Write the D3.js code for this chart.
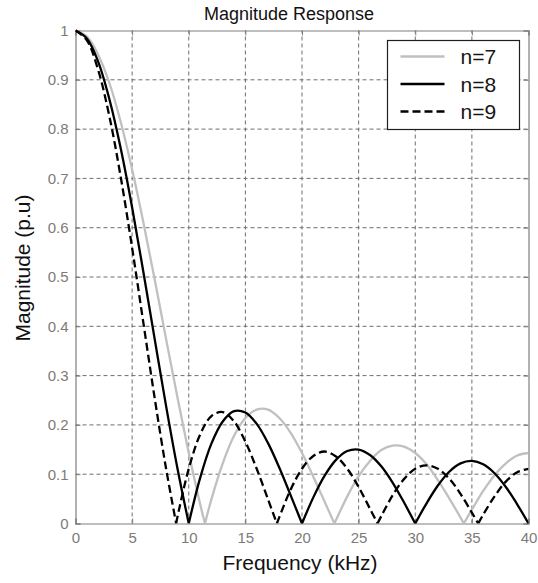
<!DOCTYPE html>
<html>
<head>
<meta charset="utf-8">
<script src="https://cdn.jsdelivr.net/npm/d3@7"></script>
<style>
  body { margin: 0; background: #fff; }
  text { font-family: "Liberation Sans", Arial, sans-serif; }
</style>
</head>
<body>
<div id="chart"></div>
<script>
// values (frequency in kHz, magnitude in p.u)
var freq = [0, 1, 2, 3, 4, 5, 6, 7, 8, 9, 10, 11, 12, 13, 14, 15, 16, 17, 18, 19, 20,
	21, 22, 23, 24, 25, 26, 27, 28, 29, 30, 31, 32, 33, 34, 35, 36, 37, 38, 39, 40];

var mag7 = [1, 0.988, 0.951, 0.893, 0.814, 0.718, 0.610, 0.494, 0.374, 0.256, 0.143,
	0.040, 0.049, 0.122, 0.178, 0.214, 0.231, 0.231, 0.214, 0.184, 0.143,
	0.095, 0.044, 0.007, 0.055, 0.096, 0.127, 0.149, 0.158, 0.156, 0.143,
	0.120, 0.088, 0.051, 0.012, 0.028, 0.066, 0.098, 0.122, 0.138, 0.143];

var mag8 = [1, 0.984, 0.937, 0.860, 0.760, 0.641, 0.509, 0.373, 0.238, 0.112, 0,
	0.092, 0.162, 0.207, 0.228, 0.225, 0.202, 0.163, 0.113, 0.057, 0,
	0.053, 0.097, 0.129, 0.147, 0.150, 0.139, 0.116, 0.083, 0.043, 0,
	0.041, 0.077, 0.105, 0.122, 0.127, 0.120, 0.102, 0.074, 0.039, 0];

var mag9 = [1, 0.980, 0.920, 0.825, 0.702, 0.559, 0.406, 0.253, 0.111, 0.013, 0.111,
	0.180, 0.218, 0.226, 0.207, 0.166, 0.111, 0.049, 0.013, 0.069, 0.111,
	0.137, 0.146, 0.136, 0.111, 0.074, 0.030, 0.015, 0.057, 0.090, 0.111,
	0.118, 0.111, 0.091, 0.060, 0.022, 0.018, 0.055, 0.085, 0.104, 0.111];

// frequencies where each curve touches zero
var nulls7 = [11.43, 22.86, 34.29];
var nulls8 = [10, 20, 30, 40];
var nulls9 = [8.89, 17.78, 26.67, 35.56];

var seriesNames = ["n=7", "n=8", "n=9"];
var xTicks = [0, 5, 10, 15, 20, 25, 30, 35, 40];
var yTicks = [0, 0.1, 0.2, 0.3, 0.4, 0.5, 0.6, 0.7, 0.8, 0.9, 1];
var yTickLabels = ["0", "0.1", "0.2", "0.3", "0.4", "0.5", "0.6", "0.7", "0.8", "0.9", "1"];

var width = 538, height = 583;
var margin = {top: 30.5, right: 9.5, bottom: 59.5, left: 75.5};

var styles = [
	{color: "#c0c0c0", dash: null},
	{color: "#000000", dash: null},
	{color: "#000000", dash: "8,4"}
];

function buildPoints(mag, nulls) {
	var pts = freq.map(function(f, i) { return [f, mag[i]]; });
	nulls.forEach(function(f) {
		if (freq.indexOf(f) < 0) pts.push([f, 0]);
	});
	pts.sort(function(a, b) { return a[0] - b[0]; });
	// cut into lobes at the nulls so each cusp stays sharp
	var lobes = [], cur = [];
	pts.forEach(function(p) {
		cur.push(p);
		if (p[1] === 0 && cur.length > 1) {
			lobes.push(cur);
			cur = [p];
		}
	});
	if (cur.length > 1) lobes.push(cur);
	return lobes;
}

var series = [buildPoints(mag7, nulls7), buildPoints(mag8, nulls8), buildPoints(mag9, nulls9)];

var svg = d3.select("#chart").append("svg")
	.attr("width", width)
	.attr("height", height);

var x = d3.scaleLinear().domain([0, 40]).range([margin.left, width - margin.right]);
var y = d3.scaleLinear().domain([0, 1]).range([height - margin.bottom, margin.top]);

var grid = svg.append("g").attr("class", "grid");

grid.selectAll(".vx").data(xTicks.slice(1, -1)).enter().append("line")
	.attr("x1", function(d) { return x(d); })
	.attr("x2", function(d) { return x(d); })
	.attr("y1", y(0)).attr("y2", y(1))
	.attr("stroke", "#6e6e6e").attr("stroke-width", 1)
	.attr("stroke-dasharray", "4,3");

grid.selectAll(".hy").data(yTicks.slice(1, -1)).enter().append("line")
	.attr("y1", function(d) { return y(d); })
	.attr("y2", function(d) { return y(d); })
	.attr("x1", x(0)).attr("x2", x(40))
	.attr("stroke", "#6e6e6e").attr("stroke-width", 1)
	.attr("stroke-dasharray", "4,3");

// axes, matlab style: ticks inward on all four sides
var axisColor = "#7f7f7f";

svg.append("g")
	.attr("transform", "translate(0," + y(0) + ")")
	.call(d3.axisBottom(x).tickValues(xTicks).tickSize(-5).tickPadding(9));

svg.append("g")
	.attr("transform", "translate(" + x(0) + ",0)")
	.call(d3.axisLeft(y).tickValues(yTicks).tickSize(-5).tickPadding(7)
		.tickFormat(function(d, i) { return yTickLabels[i]; }));

svg.append("g")
	.attr("transform", "translate(0," + y(1) + ")")
	.call(d3.axisTop(x).tickValues(xTicks).tickSize(-5).tickFormat(""));

svg.append("g")
	.attr("transform", "translate(" + x(40) + ",0)")
	.call(d3.axisRight(y).tickValues(yTicks).tickSize(-5).tickFormat(""));

svg.selectAll(".domain").attr("stroke", axisColor).attr("stroke-width", 1.2);
svg.selectAll(".tick line").attr("stroke", axisColor);
svg.selectAll(".tick text")
	.attr("fill", "#7d7b78")
	.style("font-size", "15px")
	.style("font-family", "'Liberation Sans', Arial, sans-serif");

svg.append("clipPath").attr("id", "clip")
	.append("rect")
	.attr("x", x(0)).attr("y", y(1) - 2)
	.attr("width", x(40) - x(0)).attr("height", y(0) - y(1) + 2);

var line = d3.line()
	.x(function(d) { return x(d[0]); })
	.y(function(d) { return y(d[1]); })
	.curve(d3.curveCatmullRom);

var curves = svg.append("g").attr("clip-path", "url(#clip)");

series.forEach(function(lobes, i) {
	curves.append("path")
		.attr("d", lobes.map(function(l) { return line(l); }).join(""))
		.attr("fill", "none")
		.attr("stroke", styles[i].color)
		.attr("stroke-width", 2.3)
		.attr("stroke-dasharray", styles[i].dash);
});

// legend
var lg = svg.append("g").attr("transform", "translate(387.5,40.5)");
lg.append("rect")
	.attr("width", 132).attr("height", 89)
	.attr("fill", "#fff").attr("stroke", "#1e1e1e").attr("stroke-width", 1.2);

seriesNames.forEach(function(name, i) {
	var cy = 16 + i * 27.5;
	lg.append("line")
		.attr("x1", 13).attr("x2", 57)
		.attr("y1", cy).attr("y2", cy)
		.attr("stroke", styles[i].color)
		.attr("stroke-width", 2.4)
		.attr("stroke-dasharray", styles[i].dash);
	lg.append("text")
		.attr("x", 73).attr("y", cy)
		.attr("dy", "0.36em")
		.attr("fill", "#1a1414")
		.style("font-size", "21px")
		.text(name);
});

// titles
svg.append("text")
	.attr("x", 289).attr("y", 20)
	.attr("text-anchor", "middle")
	.attr("fill", "#111")
	.style("font-size", "18px")
	.text("Magnitude Response");

svg.append("text")
	.attr("x", 300).attr("y", 570)
	.attr("text-anchor", "middle")
	.attr("fill", "#111")
	.style("font-size", "21px")
	.text("Frequency (kHz)");

svg.append("text")
	.attr("transform", "translate(30,268) rotate(-90)")
	.attr("text-anchor", "middle")
	.attr("fill", "#111")
	.style("font-size", "21px")
	.text("Magnitude (p.u)");
</script>
</body>
</html>
